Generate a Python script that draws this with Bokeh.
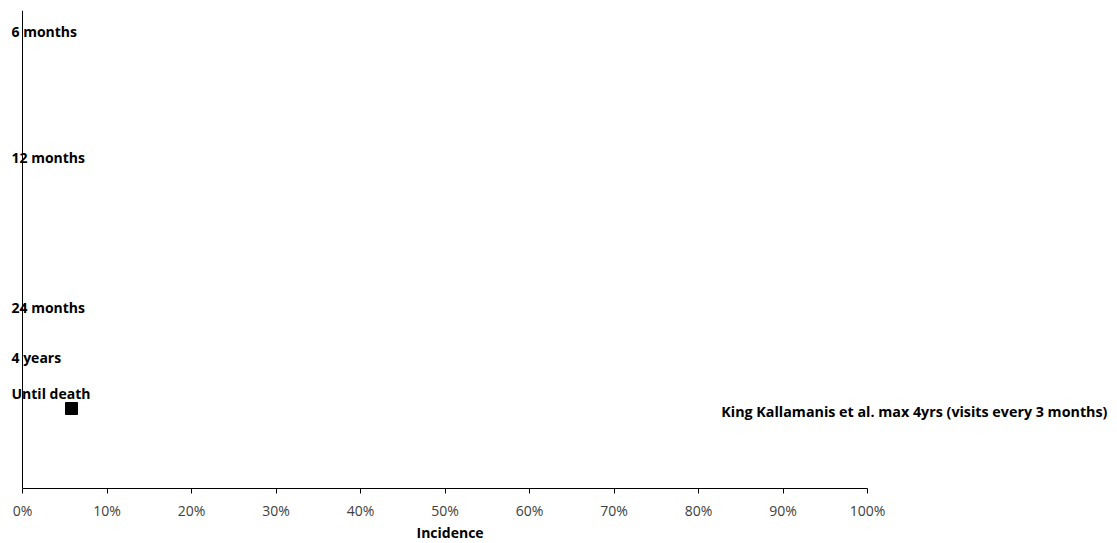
from bokeh.plotting import figure
from bokeh.models import ColumnDataSource, LabelSet, Label, Range1d, FixedTicker, PrintfTickFormatter, Span
from bokeh.core.properties import value
from bokeh.embed import file_html
from bokeh.resources import INLINE

# Data
follow_up_labels = ["6 months", "12 months", "24 months", "4 years", "Until death"]
follow_up_y = [28.68, 20.77, 11.36, 8.22, 5.96]
study_name = ["King Kallamanis et al. max 4yrs (visits every 3 months)"]
study_incidence = [5.8]
study_y = [5.02]
x_ticks = [0, 10, 20, 30, 40, 50, 60, 70, 80, 90, 100]
x_title = "Incidence"

FONT = "Open Sans"
PX_PER_PCT = 8.45
LEFT_PAD = 22
FRAME_W = 1110

p = figure(
    output_backend="svg", toolbar_location=None,
    frame_width=FRAME_W, frame_height=478,
    min_border_left=0, min_border_top=10, min_border_right=0, min_border_bottom=0,
    x_range=Range1d(-LEFT_PAD / PX_PER_PCT, (FRAME_W - LEFT_PAD) / PX_PER_PCT),
    y_range=Range1d(0, 30),
    title=x_title, title_location="below",
)
p.outline_line_color = None
p.xgrid.visible = False
p.ygrid.visible = False
p.yaxis.visible = False

p.title.align = "left"
p.title.offset = 416
p.title.text_font = FONT
p.title.text_font_size = "14px"
p.title.text_font_style = "bold"
p.title.text_color = "black"
p.title.standoff = 0
p.title.vertical_align = "top"
p.title.text_line_height = 1.0

# vertical axis line at 0%
p.add_layout(Span(location=0, dimension="height", line_color="black", line_width=1))

src = ColumnDataSource(dict(x=study_incidence, y=study_y, name=study_name))
p.scatter("x", "y", source=src, marker="square", size=12, fill_color="black", line_color="black")

lab_src = ColumnDataSource(dict(x=[0] * len(follow_up_labels), y=follow_up_y, text=follow_up_labels))
p.add_layout(LabelSet(x="x", y="y", text="text", source=lab_src, x_offset=-11,
                      text_align="left", text_baseline="middle",
                      text_font=value(FONT), text_font_style="bold", text_font_size="14px",
                      text_color="black"))

p.add_layout(Label(x=82.7, y=4.83, text=study_name[0], text_align="left", text_baseline="middle",
                   text_font=FONT, text_font_style="bold", text_font_size="14.3px", text_color="black"))

xa = p.xaxis[0]
xa.bounds = (0, 100)
xa.ticker = FixedTicker(ticks=x_ticks)
xa.formatter = PrintfTickFormatter(format="%d%%")
xa.minor_tick_line_color = None
xa.major_tick_in = 0
xa.major_tick_out = 5
xa.major_label_standoff = 7
xa.major_label_text_font = FONT
xa.major_label_text_font_size = "14px"
xa.major_label_text_color = "#404040"
xa.axis_line_color = "black"
xa.major_tick_line_color = "black"

open("out.html", "w").write(file_html(p, INLINE))
